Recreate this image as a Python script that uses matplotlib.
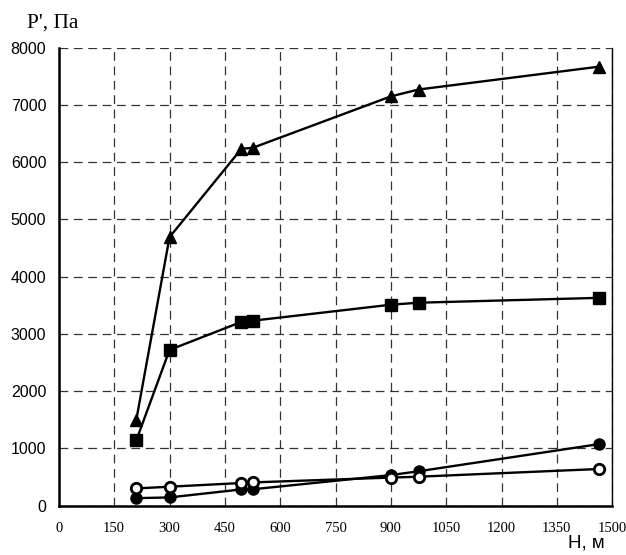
import matplotlib
matplotlib.use("Agg")
import matplotlib.pyplot as plt

# высоты, м
h = [210, 300, 495, 525, 900, 975, 1465]

# давление P', Па
p_tri = [1500, 4690, 6235, 6250, 7150, 7270, 7670]
p_sq = [1140, 2720, 3210, 3230, 3510, 3545, 3630]
p_dot = [130, 143, 283, 285, 533, 600, 1075]
p_open = [300, 330, 395, 405, 490, 505, 640]

x_ticks = [0, 150, 300, 450, 600, 750, 900, 1050, 1200, 1350, 1500]
y_ticks = [0, 1000, 2000, 3000, 4000, 5000, 6000, 7000, 8000]

fig = plt.figure(figsize=(6.26, 5.55), dpi=100)
ax = fig.add_axes([0.094, 0.089, 0.884, 0.825])

ax.plot(h, p_tri, color="black", lw=1.7, marker="^", ms=8.5, zorder=3)
ax.plot(h, p_sq, color="black", lw=1.7, marker="s", ms=8, zorder=3)
ax.plot(h, p_dot, color="black", lw=1.7, marker="o", ms=8, zorder=3)
ax.plot(h, p_open, color="black", lw=1.7, marker="o", ms=7.5, mfc="white",
        mew=2, zorder=4)

ax.set_xlim(0, 1500)
ax.set_ylim(0, 8000)
ax.set_xticks(x_ticks)
ax.set_yticks(y_ticks)
ax.set_xticklabels([str(v) for v in x_ticks], family="Liberation Serif", fontsize=10.5)
ax.set_yticklabels([str(v) for v in y_ticks], family="Liberation Sans", fontsize=11.5)
ax.tick_params(length=0, pad=12)
ax.tick_params(axis="y", pad=9)

ax.grid(True, color="#333333", ls=(0, (7, 4.5)), lw=0.9)
ax.spines["top"].set_visible(False)
ax.spines["right"].set_linewidth(1.0)
ax.spines["left"].set_linewidth(1.8)
ax.spines["bottom"].set_linewidth(1.8)

fig.text(0.043, 0.958, "P', Па", family="Liberation Serif", fontsize=15.5,
         ha="left", va="center")
fig.text(0.966, 0.022, "H, м", family="Liberation Sans", fontsize=13.5,
         ha="right", va="center")

fig.savefig("out.png", dpi=100)
